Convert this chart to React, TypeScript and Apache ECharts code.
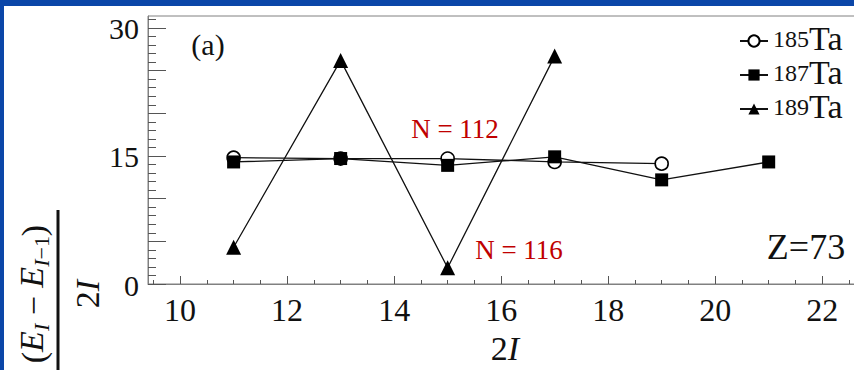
import React, { useEffect, useRef } from "react";
import * as echarts from "echarts";

const FONT = "'Liberation Serif', 'Times New Roman', serif";

// Spin index 2I (x) and energy-difference ratio (y)
const X_185 = [11, 13, 15, 17, 19];
const Y_185 = [14.8, 14.7, 14.7, 14.3, 14.1];
const X_187 = [11, 13, 15, 17, 19, 21];
const Y_187 = [14.3, 14.7, 13.9, 14.9, 12.2, 14.3];
const X_189 = [11, 13, 15, 17];
const Y_189 = [4.3, 26.2, 1.9, 26.7];

const SERIES_NAMES = ["185Ta", "187Ta", "189Ta"];
const MASS_NUMBERS = ["185", "187", "189"];

const X_LABELS = [10, 12, 14, 16, 18, 20, 22];
const Y_LABELS = [0, 15, 30];
const Y_MAJOR_TICKS = [0, 5, 10, 15, 20, 25, 30];

const X_MIN = 9.4;
const X_MAX = 22.8;
const Y_MIN = 0;
const Y_MAX = 31.4;

function stepValues(from: number, to: number, step: number): number[] {
  const out: number[] = [];
  for (let v = from; v <= to + 1e-9; v += step) out.push(Math.round(v * 100) / 100);
  return out;
}

const X_MINOR_TICKS = stepValues(9.5, 22.5, 0.5);
const Y_MINOR_TICKS = stepValues(1, 31, 1);

const pairs = (xs: number[], ys: number[]) => xs.map((x, i) => [x, ys[i]]);

export default function App() {
  const ref = useRef<HTMLDivElement>(null);

  useEffect(() => {
    if (!ref.current) return;
    const chart = echarts.init(ref.current, null, { renderer: "svg" });

    const lineStyle = { color: "#111", width: 1.3 };
    const axisColor = "#808080";
    const tickColor = "#555";

    const tickAxis = (
      kind: "x" | "y",
      min: number,
      max: number,
      values: number[],
      length: number,
      withLine: boolean
    ) => ({
      type: "value",
      min,
      max,
      position: kind === "x" ? "bottom" : "left",
      offset: 0,
      axisLine: { show: withLine, lineStyle: { color: axisColor, width: 1 } },
      axisTick: {
        show: true,
        inside: true,
        length,
        customValues: values,
        lineStyle: { color: tickColor },
      },
      axisLabel: { show: false },
      splitLine: { show: false },
    });

    const baseGraphic: any[] = [
      // frame strips
      { type: "rect", shape: { x: 0, y: 0, width: 854, height: 6 }, style: { fill: "#0b46a8" }, z: 100 },
      { type: "rect", shape: { x: 0, y: 0, width: 4, height: 370 }, style: { fill: "#0b46a8" }, z: 100 },
      // panel tag
      {
        type: "text",
        x: 208,
        y: 44,
        style: { text: "(a)", fontSize: 30, fontFamily: FONT, fill: "#111", align: "center", verticalAlign: "middle" },
      },
      {
        type: "text",
        x: 455,
        y: 129,
        style: { text: "N = 112", fontSize: 27, fontFamily: FONT, fill: "#c00000", align: "center", verticalAlign: "middle" },
      },
      {
        type: "text",
        x: 519,
        y: 250,
        style: { text: "N = 116", fontSize: 27, fontFamily: FONT, fill: "#c00000", align: "center", verticalAlign: "middle" },
      },
      {
        type: "text",
        x: 806,
        y: 247,
        style: { text: "Z=73", fontSize: 36, fontFamily: FONT, fill: "#111", align: "center", verticalAlign: "middle" },
      },
      // x-axis title
      {
        type: "text",
        x: 505,
        y: 348,
        style: {
          text: "2{i|I}",
          fontSize: 34,
          fontFamily: FONT,
          fill: "#111",
          align: "center",
          verticalAlign: "middle",
          rich: { i: { fontSize: 34, fontFamily: FONT, fontStyle: "italic", fill: "#111" } },
        },
      },
      // y-axis title: (E_I - E_{I-1}) / 2I, rotated
      {
        type: "group",
        x: 58,
        y: 294,
        rotation: Math.PI / 2,
        children: [
          {
            type: "text",
            x: 0,
            y: -6,
            style: {
              text: "({e|E}{s|I} − {e|E}{s|I}{n|−1})",
              fontSize: 34,
              fontFamily: FONT,
              fill: "#111",
              align: "center",
              verticalAlign: "bottom",
              lineHeight: 38,
              rich: {
                e: { fontSize: 34, fontFamily: FONT, fontStyle: "italic", fill: "#111", lineHeight: 38, verticalAlign: "top" },
                s: { fontSize: 22, fontFamily: FONT, fontStyle: "italic", fill: "#111", lineHeight: 20, verticalAlign: "bottom" },
                n: { fontSize: 22, fontFamily: FONT, fill: "#111", lineHeight: 20, verticalAlign: "bottom" },
              },
            },
          },
          {
            type: "line",
            shape: { x1: -84, y1: 0, x2: 84, y2: 0 },
            style: { stroke: "#111", lineWidth: 3 },
          },
          {
            type: "text",
            x: 0,
            y: 12,
            style: {
              text: "2{i|I}",
              fontSize: 34,
              fontFamily: FONT,
              fill: "#111",
              align: "center",
              verticalAlign: "top",
              rich: { i: { fontSize: 34, fontFamily: FONT, fontStyle: "italic", fill: "#111" } },
            },
          },
        ],
      },
    ];

    chart.setOption({
      animation: false,
      backgroundColor: "#fff",
      textStyle: { fontFamily: FONT },
      grid: {
        left: 148,
        top: 16,
        right: -11,
        bottom: 86,
        show: true,
        borderColor: axisColor,
        borderWidth: 1,
        outerBoundsMode: "none",
      },
      xAxis: [
        tickAxis("x", X_MIN, X_MAX, X_LABELS, 8, true),
        tickAxis("x", X_MIN, X_MAX, X_MINOR_TICKS, 4, false),
      ],
      yAxis: [
        tickAxis("y", Y_MIN, Y_MAX, Y_MAJOR_TICKS, 18, true),
        tickAxis("y", Y_MIN, Y_MAX, Y_MINOR_TICKS, 8, false),
      ],
      legend: {
        orient: "vertical",
        left: 734,
        top: 16,
        itemWidth: 28,
        itemHeight: 14,
        itemGap: 0,
        data: SERIES_NAMES,
        formatter: (name: string) => {
          const i = SERIES_NAMES.indexOf(name);
          return `{sup|${MASS_NUMBERS[i]}}{b|Ta}`;
        },
        textStyle: {
          color: "#111",
          fontFamily: FONT,
          fontSize: 34,
          rich: {
            sup: { fontSize: 24, fontFamily: FONT, color: "#111", lineHeight: 28, verticalAlign: "top" },
            b: { fontSize: 34, fontFamily: FONT, color: "#111", lineHeight: 28, verticalAlign: "bottom" },
          },
        },
      },
      series: [
        {
          name: SERIES_NAMES[0],
          type: "line",
          xAxisIndex: 0,
          yAxisIndex: 0,
          data: pairs(X_185, Y_185),
          symbol: "circle",
          symbolSize: 13,
          itemStyle: { color: "#fff", borderColor: "#000", borderWidth: 1.6 },
          lineStyle,
          z: 2,
        },
        {
          name: SERIES_NAMES[1],
          type: "line",
          xAxisIndex: 0,
          yAxisIndex: 0,
          data: pairs(X_187, Y_187),
          symbol: "rect",
          symbolSize: 13,
          itemStyle: { color: "#000", borderColor: "#000", borderWidth: 0 },
          lineStyle,
          z: 3,
        },
        {
          name: SERIES_NAMES[2],
          type: "line",
          xAxisIndex: 0,
          yAxisIndex: 0,
          data: pairs(X_189, Y_189),
          symbol: "triangle",
          symbolSize: 15,
          itemStyle: { color: "#000", borderColor: "#000", borderWidth: 0 },
          lineStyle,
          z: 4,
        },
      ],
      graphic: baseGraphic,
    });

    // Tick labels, placed through the axes' own scales.
    const xBase = chart.convertToPixel({ yAxisIndex: 0 }, Y_MIN) as number;
    const yBase = chart.convertToPixel({ xAxisIndex: 0 }, X_MIN) as number;
    const xTickLabels = X_LABELS.map((v) => ({
      type: "text",
      x: chart.convertToPixel({ xAxisIndex: 0 }, v) as number,
      y: xBase + 26,
      style: { text: String(v), fontSize: 32, fontFamily: FONT, fill: "#111", align: "center", verticalAlign: "middle" },
    }));
    const yTickLabels = Y_LABELS.map((v) => ({
      type: "text",
      x: yBase - 9,
      y: (chart.convertToPixel({ yAxisIndex: 0 }, v) as number) + 1,
      style: { text: String(v), fontSize: 30, fontFamily: FONT, fill: "#111", align: "right", verticalAlign: "middle" },
    }));

    chart.setOption({ graphic: [...baseGraphic, ...xTickLabels, ...yTickLabels] });

    return () => chart.dispose();
  }, []);

  return (
    <div
      ref={ref}
      style={{ position: "fixed", left: 0, top: 0, width: 854, height: 370, background: "#fff" }}
    />
  );
}
